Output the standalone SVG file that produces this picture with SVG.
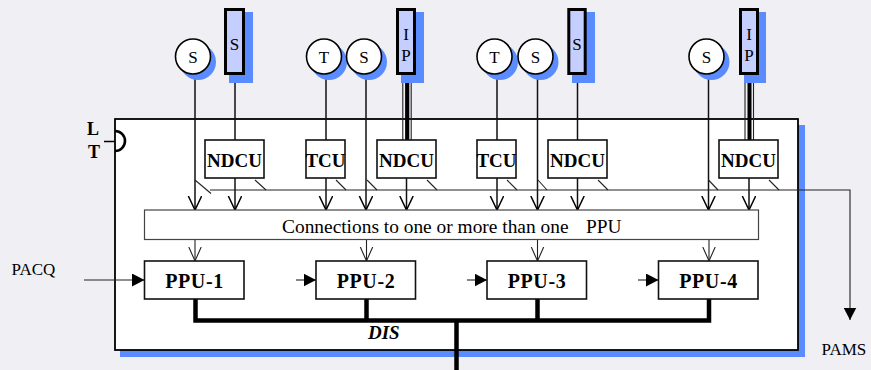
<svg xmlns="http://www.w3.org/2000/svg" width="871" height="370" viewBox="0 0 871 370">
  <style>
    .bg { fill: #EFEFF4; }
    .shadow { fill: #5B8CFF; }
    .frame { fill: #FFFFFF; stroke: #000; stroke-width: 1.8; }
    .unit { fill: #FFFFFF; stroke: #111; stroke-width: 1.6; }
    .conn { fill: #FFFFFF; stroke: #444; stroke-width: 1.2; }
    .sensor { fill: #FFFFFF; stroke: #000; stroke-width: 1.6; }
    .bar { fill: #C4CEFF; stroke: #000; stroke-width: 3; }
    .ln { fill: none; stroke: #111; stroke-width: 1.5; }
    .thin { fill: none; stroke: #222; stroke-width: 1.1; }
    .bus { fill: none; stroke: #000; stroke-width: 4.5; }
    .tick { fill: none; stroke: #222; stroke-width: 1.1; }
    text { font-family: "Liberation Serif", "Times New Roman", serif; fill: #000; }
    .lbl { font-size: 17px; }
    .bold { font-size: 19px; font-weight: bold; }
    .ppu { font-size: 20px; font-weight: bold; letter-spacing: 0.6px; }
    .mid { text-anchor: middle; }
  </style>
  <defs>
    <marker id="vee" viewBox="0 0 16 16" refX="14" refY="7" markerWidth="16" markerHeight="16" markerUnits="userSpaceOnUse" orient="auto">
      <path d="M0,0.3 L14,7 L0,13.7" fill="none" stroke="#000" stroke-width="1.5"/>
    </marker>
    <marker id="veeThin" viewBox="0 0 16 16" refX="14" refY="7" markerWidth="16" markerHeight="16" markerUnits="userSpaceOnUse" orient="auto">
      <path d="M0,0.8 L14,7 L0,13.2" fill="none" stroke="#222" stroke-width="1.1"/>
    </marker>
    <marker id="tri" viewBox="0 0 13 13" refX="12.5" refY="6.5" markerWidth="13" markerHeight="13" markerUnits="userSpaceOnUse" orient="auto">
      <path d="M0,0 L12.5,6.5 L0,13 Z" fill="#000"/>
    </marker>
  </defs>

  <rect class="bg" x="0" y="0" width="871" height="370"/>

  <!-- outer frame with drop shadow -->
  <g id="frame">
    <rect class="shadow" x="120" y="125" width="685" height="232"/>
    <rect class="frame" x="115" y="119" width="683" height="231"/>
  </g>

  <!-- L / T marker on the frame -->
  <g id="lt">
    <path d="M115,131 A10,10 0 0 1 115,151" fill="none" stroke="#000" stroke-width="2.6"/>
    <line x1="104" y1="141.5" x2="115" y2="141.5" stroke="#000" stroke-width="1.5"/>
    <text class="bold" x="93" y="135" text-anchor="middle" style="font-size:18px">L</text>
    <text class="bold" x="94" y="158" text-anchor="middle" style="font-size:18px">T</text>
  </g>

  <!-- connectors -->
  <g id="connectors">
    <!-- tall sensor bars to control units -->
    <line class="ln" x1="235" y1="75" x2="235" y2="140"/>
    <line class="ln" x1="577.5" y1="75" x2="577.5" y2="140"/>
    <!-- IP bundles: thin, thick, thin -->
    <line class="thin" x1="402.8" y1="75" x2="402.8" y2="140"/>
    <line x1="407.2" y1="75" x2="407.2" y2="140" stroke="#000" stroke-width="4.2"/>
    <line class="thin" x1="411.2" y1="75" x2="411.2" y2="140"/>
    <line class="thin" x1="745" y1="75" x2="745" y2="140"/>
    <line x1="749.5" y1="75" x2="749.5" y2="140" stroke="#000" stroke-width="4"/>
    <line class="thin" x1="753.5" y1="75" x2="753.5" y2="140"/>
    <!-- T circles to TCUs -->
    <line class="ln" x1="326" y1="74" x2="326" y2="140"/>
    <line class="ln" x1="497" y1="74" x2="497" y2="140"/>

    <!-- feeds into the connection field -->
    <line class="ln" x1="195" y1="74" x2="195" y2="210" marker-end="url(#vee)"/>
    <line class="ln" x1="235" y1="178" x2="235" y2="210" marker-end="url(#vee)"/>
    <line class="ln" x1="326" y1="178" x2="326" y2="210" marker-end="url(#vee)"/>
    <line class="ln" x1="366" y1="74" x2="366" y2="210" marker-end="url(#vee)"/>
    <line class="ln" x1="406.5" y1="178" x2="406.5" y2="210" marker-end="url(#vee)"/>
    <line class="ln" x1="497" y1="178" x2="497" y2="210" marker-end="url(#vee)"/>
    <line class="ln" x1="537.5" y1="74" x2="537.5" y2="210" marker-end="url(#vee)"/>
    <line class="ln" x1="577.5" y1="178" x2="577.5" y2="210" marker-end="url(#vee)"/>
    <line class="ln" x1="708.5" y1="74" x2="708.5" y2="210" marker-end="url(#vee)"/>
    <line class="ln" x1="749" y1="178" x2="749" y2="210" marker-end="url(#vee)"/>

    <!-- monitoring line to PAMS -->
    <polyline class="thin" points="210,190 850,190 850,320" marker-end="url(#tri)"/>
    <line class="tick" x1="195" y1="180" x2="211" y2="193.5"/>
    <line class="tick" x1="255" y1="180" x2="266" y2="190"/>
    <line class="tick" x1="336" y1="180" x2="346" y2="190"/>
    <line class="tick" x1="367" y1="180" x2="377" y2="190"/>
    <line class="tick" x1="427" y1="180" x2="437" y2="190"/>
    <line class="tick" x1="507" y1="180" x2="517" y2="190"/>
    <line class="tick" x1="538" y1="180" x2="547" y2="190"/>
    <line class="tick" x1="598" y1="180" x2="608" y2="190"/>
    <line class="tick" x1="708.5" y1="180" x2="718" y2="190"/>
    <line class="tick" x1="769" y1="180" x2="779" y2="190"/>

    <!-- connection field to PPUs -->
    <line class="thin" x1="195" y1="239" x2="195" y2="261" marker-end="url(#veeThin)"/>
    <line class="thin" x1="366.5" y1="239" x2="366.5" y2="261" marker-end="url(#veeThin)"/>
    <line class="thin" x1="537.5" y1="239" x2="537.5" y2="261" marker-end="url(#veeThin)"/>
    <line class="thin" x1="709" y1="239" x2="709" y2="261" marker-end="url(#veeThin)"/>

    <!-- acquisition inputs -->
    <line class="thin" x1="84" y1="280" x2="144.5" y2="280" marker-end="url(#tri)"/>
    <line class="thin" x1="296" y1="280" x2="316" y2="280" marker-end="url(#tri)"/>
    <line class="thin" x1="467" y1="280" x2="487" y2="280" marker-end="url(#tri)"/>
    <line class="thin" x1="638" y1="280" x2="658.5" y2="280" marker-end="url(#tri)"/>

    <!-- DIS bus -->
    <polyline class="bus" points="195.5,299 195.5,320.5 709,320.5 709,299"/>
    <line class="bus" x1="366.5" y1="299" x2="366.5" y2="320.5"/>
    <line class="bus" x1="537.5" y1="299" x2="537.5" y2="320.5"/>
    <line class="bus" x1="456.5" y1="320.5" x2="456.5" y2="370"/>
  </g>

  <!-- sensors -->
  <g id="s1">
    <circle class="shadow" cx="198" cy="62" r="18"/>
    <circle class="sensor" cx="193" cy="56.5" r="17.5"/>
    <text class="lbl mid" x="193" y="62.5">S</text>
  </g>
  <g id="bar-s1">
    <rect class="shadow" x="229" y="12" width="24" height="71"/>
    <rect class="bar" x="225.5" y="9.5" width="18" height="64"/>
    <text class="lbl mid" x="234.5" y="50">S</text>
  </g>
  <g id="t1">
    <circle class="shadow" cx="329" cy="62" r="18"/>
    <circle class="sensor" cx="324" cy="56.5" r="17.5"/>
    <text class="lbl mid" x="324" y="62.5">T</text>
  </g>
  <g id="s2">
    <circle class="shadow" cx="369" cy="62" r="18"/>
    <circle class="sensor" cx="364" cy="56.5" r="17.5"/>
    <text class="lbl mid" x="364" y="62.5">S</text>
  </g>
  <g id="bar-ip1">
    <rect class="shadow" x="401" y="12" width="23" height="71"/>
    <rect class="bar" x="397.5" y="9.5" width="17" height="64"/>
    <text class="lbl mid" x="406" y="39.5">I</text>
    <text class="lbl mid" x="406" y="61">P</text>
  </g>
  <g id="t2">
    <circle class="shadow" cx="500" cy="62" r="18"/>
    <circle class="sensor" cx="494.5" cy="56.5" r="17.5"/>
    <text class="lbl mid" x="494.5" y="62.5">T</text>
  </g>
  <g id="s3">
    <circle class="shadow" cx="540.5" cy="62" r="18"/>
    <circle class="sensor" cx="535.5" cy="56.5" r="17.5"/>
    <text class="lbl mid" x="535.5" y="62.5">S</text>
  </g>
  <g id="bar-s2">
    <rect class="shadow" x="572" y="12" width="23" height="71"/>
    <rect class="bar" x="568.8" y="9.5" width="16.4" height="64"/>
    <text class="lbl mid" x="577" y="50">S</text>
  </g>
  <g id="s4">
    <circle class="shadow" cx="711.5" cy="62" r="18"/>
    <circle class="sensor" cx="706.5" cy="56.5" r="17.5"/>
    <text class="lbl mid" x="706.5" y="62.5">S</text>
  </g>
  <g id="bar-ip2">
    <rect class="shadow" x="744" y="12" width="22" height="71"/>
    <rect class="bar" x="740.5" y="9.5" width="17" height="64"/>
    <text class="lbl mid" x="749" y="39.5">I</text>
    <text class="lbl mid" x="749" y="61">P</text>
  </g>

  <!-- control units -->
  <g id="ndcu1">
    <rect class="unit" x="205" y="140" width="59" height="38"/>
    <text class="bold mid" x="234.5" y="166.5">NDCU</text>
  </g>
  <g id="tcu1">
    <rect class="unit" x="306" y="140" width="39" height="38"/>
    <text class="bold mid" x="325.5" y="166.5">TCU</text>
  </g>
  <g id="ndcu2">
    <rect class="unit" x="377" y="140" width="59" height="38"/>
    <text class="bold mid" x="406.5" y="166.5">NDCU</text>
  </g>
  <g id="tcu2">
    <rect class="unit" x="477" y="140" width="39" height="38"/>
    <text class="bold mid" x="496.5" y="166.5">TCU</text>
  </g>
  <g id="ndcu3">
    <rect class="unit" x="548" y="140" width="59" height="38"/>
    <text class="bold mid" x="577.5" y="166.5">NDCU</text>
  </g>
  <g id="ndcu4">
    <rect class="unit" x="719" y="140" width="59" height="38"/>
    <text class="bold mid" x="748.5" y="166.5">NDCU</text>
  </g>

  <!-- connection field -->
  <g id="connections">
    <rect class="conn" x="144.5" y="210" width="614" height="29.5"/>
    <text x="282" y="232.5" style="font-size:19.4px">Connections to one or more than one</text>
    <text x="586" y="232.5" style="font-size:19.4px">PPU</text>
  </g>

  <!-- processing units -->
  <g id="ppu1">
    <rect class="unit" x="144.5" y="261" width="99.5" height="38"/>
    <text class="ppu mid" x="194.5" y="287.5">PPU-1</text>
  </g>
  <g id="ppu2">
    <rect class="unit" x="316" y="261" width="99.5" height="38"/>
    <text class="ppu mid" x="366" y="287.5">PPU-2</text>
  </g>
  <g id="ppu3">
    <rect class="unit" x="487" y="261" width="99.5" height="38"/>
    <text class="ppu mid" x="537" y="287.5">PPU-3</text>
  </g>
  <g id="ppu4">
    <rect class="unit" x="658.5" y="261" width="99.5" height="38"/>
    <text class="ppu mid" x="708.5" y="287.5">PPU-4</text>
  </g>

  <!-- external labels -->
  <g id="labels">
    <text class="lbl" x="11.5" y="274.5">PACQ</text>
    <text class="lbl" x="821.5" y="355">PAMS</text>
    <text class="bold" x="368" y="339" style="font-style:italic">DIS</text>
  </g>
</svg>
